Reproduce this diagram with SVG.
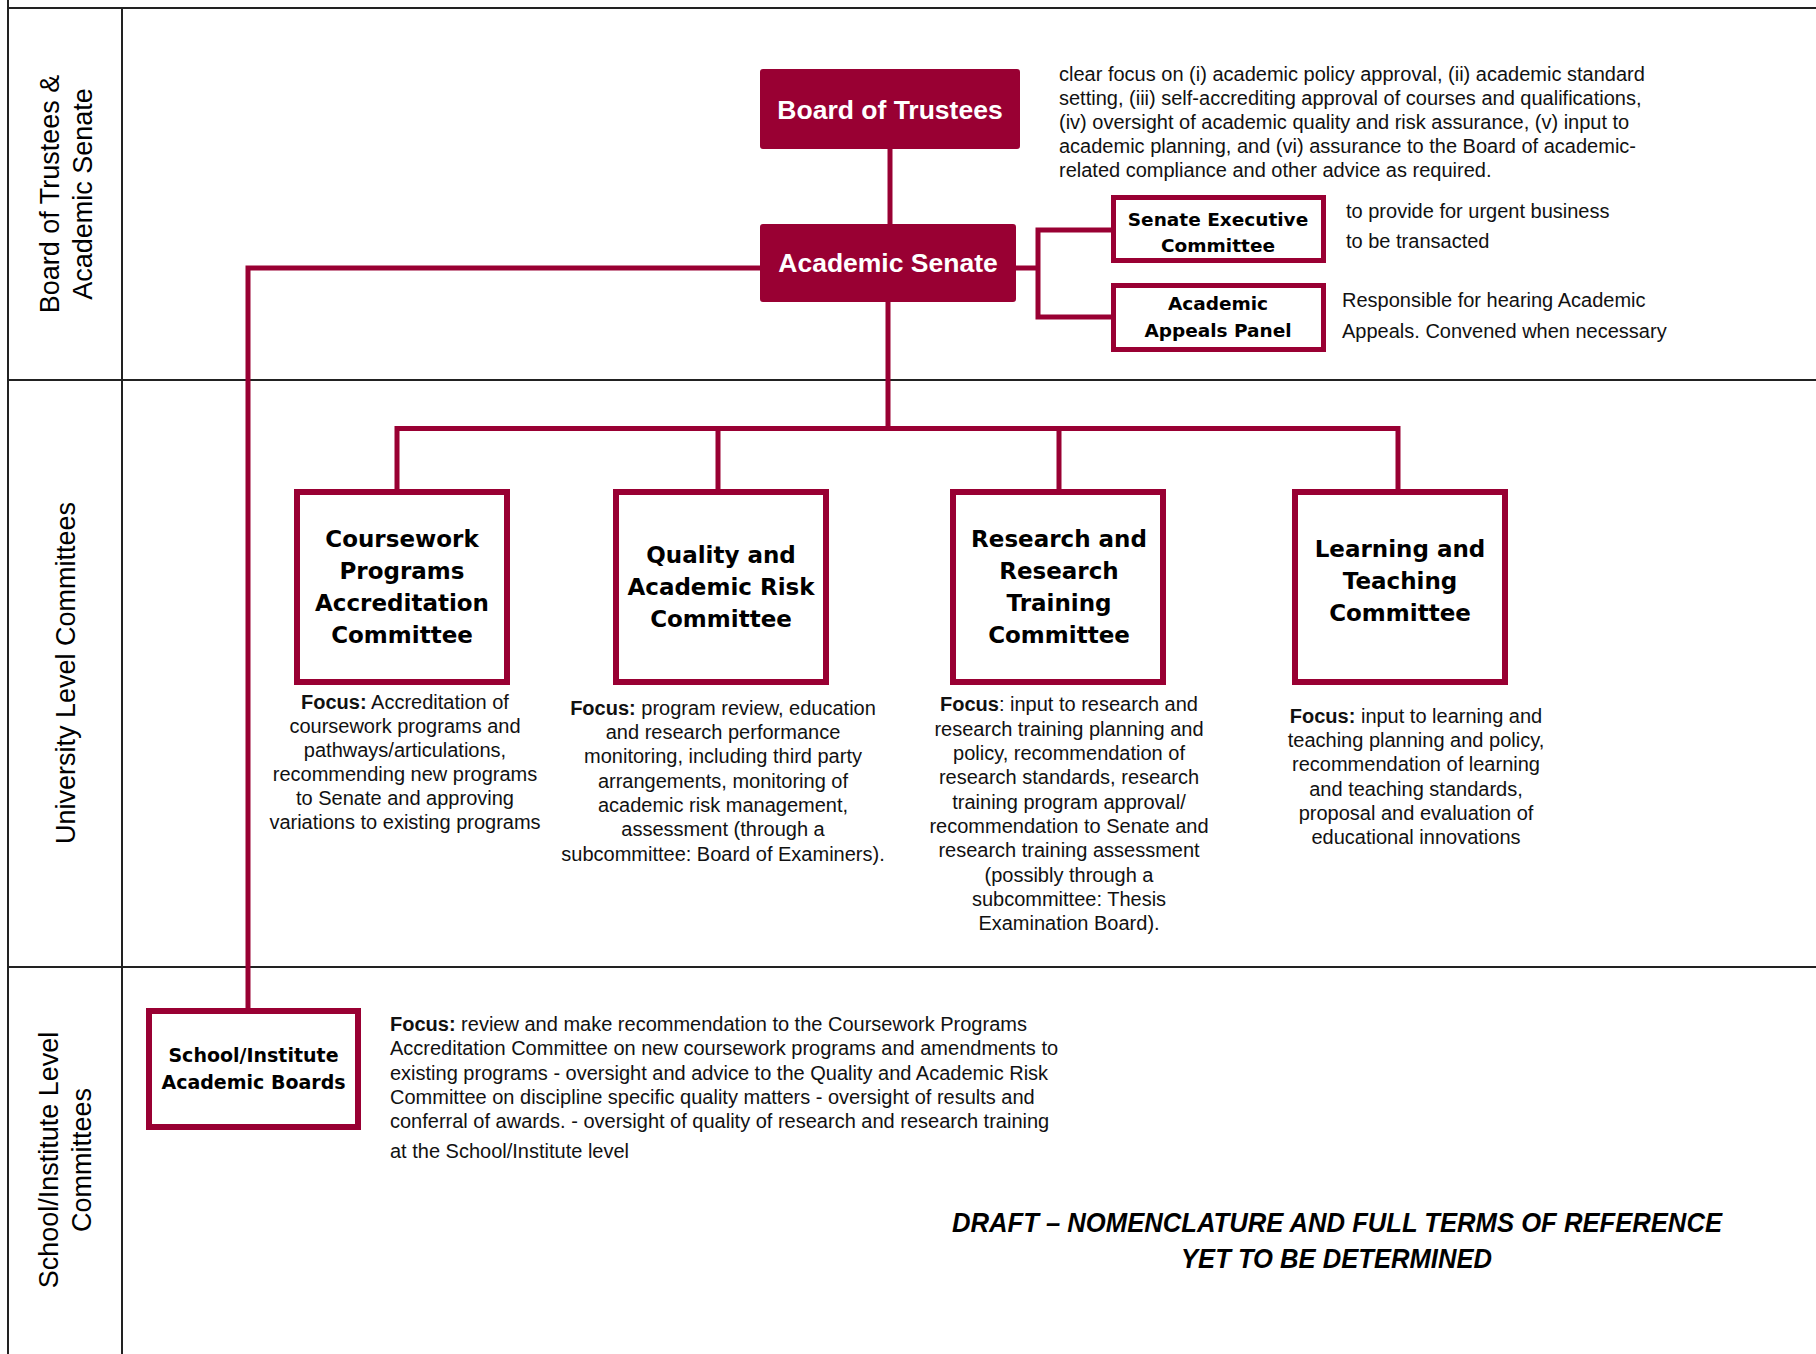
<svg xmlns="http://www.w3.org/2000/svg" width="1816" height="1354" viewBox="0 0 1816 1354">
<style>
.grid{stroke:#222;stroke-width:2;fill:none}
.conn{stroke:#990033;stroke-width:5;fill:none}
.solid{fill:#990033;stroke:#990033;stroke-width:2}
.box{fill:#fff;stroke:#990033;stroke-width:6}
.sbox{fill:#fff;stroke:#990033;stroke-width:5}
.lane{font-family:"Liberation Sans",Arial,sans-serif;font-size:27px;fill:#000;text-anchor:middle}
.wt{font-family:"Liberation Sans",Arial,sans-serif;font-weight:bold;font-size:26.5px;fill:#fff;text-anchor:middle}
.bt{font-family:"DejaVu Sans",Verdana,sans-serif;font-weight:bold;font-size:23px;fill:#000;text-anchor:middle}
.st{font-family:"DejaVu Sans",Verdana,sans-serif;font-weight:bold;font-size:18.5px;fill:#000;text-anchor:middle}
.d{font-family:"Liberation Sans",Arial,sans-serif;font-size:20px;fill:#111}
.c{text-anchor:middle}
.b{font-weight:bold}
.draft{font-family:"Liberation Sans",Arial,sans-serif;font-weight:bold;font-style:italic;font-size:28px;fill:#000}
</style>
<rect x="0" y="0" width="1816" height="1354" fill="#fff"/>
<g id="grid">
<path class="grid" d="M8,0 V1354 M8,8 H1816 M122,8 V1354 M8,380 H1816 M8,967 H1816"/>
</g>
<g id="lane-labels">
<text class="lane" transform="translate(59,194) rotate(-90)">Board of Trustees &amp;</text>
<text class="lane" transform="translate(92,194) rotate(-90)">Academic Senate</text>
<text class="lane" transform="translate(75,673) rotate(-90)">University Level Committees</text>
<text class="lane" transform="translate(58,1160) rotate(-90)">School/Institute Level</text>
<text class="lane" transform="translate(91,1160) rotate(-90)">Committees</text>
</g>
<g id="connectors">
<path class="conn" d="M890,149 V224"/>
<path class="conn" d="M760,268 H248 V1008"/>
<path class="conn" d="M1111,230 H1038 V317 H1111 M1016,268 H1038"/>
<path class="conn" d="M888,302 V428.5 M397,490 V428.5 H1398 V490 M718,428.5 V490 M1059,428.5 V490"/>
</g>
<g id="board-of-trustees">
<rect class="solid" x="761" y="70" width="258" height="78" rx="2"/>
<text class="wt" x="890" y="119">Board of Trustees</text>
</g>
<g id="board-note">
<text class="d" x="1059"><tspan x="1059" y="81">clear focus on (i) academic policy approval, (ii) academic standard</tspan><tspan x="1059" y="105">setting, (iii) self-accrediting approval of courses and qualifications,</tspan><tspan x="1059" y="129">(iv) oversight of academic quality and risk assurance, (v) input to</tspan><tspan x="1059" y="153">academic planning, and (vi) assurance to the Board of academic-</tspan><tspan x="1059" y="177">related compliance and other advice as required.</tspan></text>
</g>
<g id="academic-senate">
<rect class="solid" x="761" y="225" width="254" height="76" rx="2"/>
<text class="wt" x="888" y="272">Academic Senate</text>
</g>
<g id="senate-executive-committee">
<rect class="sbox" x="1113.5" y="197.5" width="210" height="63"/>
<text class="st" x="1218" y="226">Senate Executive</text>
<text class="st" x="1218" y="252">Committee</text>
<text class="d" x="1346" y="218">to provide for urgent business</text>
<text class="d" x="1346" y="248">to be transacted</text>
</g>
<g id="academic-appeals-panel">
<rect class="sbox" x="1113.5" y="285.5" width="210" height="64"/>
<text class="st" x="1218" y="310">Academic</text>
<text class="st" x="1218" y="337">Appeals Panel</text>
<text class="d" x="1342" y="307">Responsible for hearing Academic</text>
<text class="d" x="1342" y="338">Appeals. Convened when necessary</text>
</g>
<g id="coursework-programs-accreditation-committee">
<rect class="box" x="297" y="492" width="210" height="190"/>
<text class="bt" x="402" y="547">Coursework</text>
<text class="bt" x="402" y="579">Programs</text>
<text class="bt" x="402" y="611">Accreditation</text>
<text class="bt" x="402" y="643">Committee</text>
<text class="d c"><tspan x="405" y="709"><tspan class="b">Focus:</tspan> Accreditation of</tspan><tspan x="405" y="733">coursework programs and</tspan><tspan x="405" y="757">pathways/articulations,</tspan><tspan x="405" y="781">recommending new programs</tspan><tspan x="405" y="805">to Senate and approving</tspan><tspan x="405" y="829">variations to existing programs</tspan></text>
</g>
<g id="quality-and-academic-risk-committee">
<rect class="box" x="616" y="492" width="210" height="190"/>
<text class="bt" x="721" y="563">Quality and</text>
<text class="bt" x="721" y="595">Academic Risk</text>
<text class="bt" x="721" y="627">Committee</text>
<text class="d c"><tspan x="723" y="715"><tspan class="b">Focus:</tspan> program review, education</tspan><tspan x="723" y="739">and research performance</tspan><tspan x="723" y="763">monitoring, including third party</tspan><tspan x="723" y="788">arrangements, monitoring of</tspan><tspan x="723" y="812">academic risk management,</tspan><tspan x="723" y="836">assessment (through a</tspan><tspan x="723" y="861">subcommittee: Board of Examiners).</tspan></text>
</g>
<g id="research-and-research-training-committee">
<rect class="box" x="953" y="492" width="210" height="190"/>
<text class="bt" x="1059" y="547">Research and</text>
<text class="bt" x="1059" y="579">Research</text>
<text class="bt" x="1059" y="611">Training</text>
<text class="bt" x="1059" y="643">Committee</text>
<text class="d c"><tspan x="1069" y="711"><tspan class="b">Focus</tspan>: input to research and</tspan><tspan x="1069" y="736">research training planning and</tspan><tspan x="1069" y="760">policy, recommendation of</tspan><tspan x="1069" y="784">research standards, research</tspan><tspan x="1069" y="809">training program approval/</tspan><tspan x="1069" y="833">recommendation to Senate and</tspan><tspan x="1069" y="857">research training assessment</tspan><tspan x="1069" y="882">(possibly through a</tspan><tspan x="1069" y="906">subcommittee: Thesis</tspan><tspan x="1069" y="930">Examination Board).</tspan></text>
</g>
<g id="learning-and-teaching-committee">
<rect class="box" x="1295" y="492" width="210" height="190"/>
<text class="bt" x="1400" y="557">Learning and</text>
<text class="bt" x="1400" y="589">Teaching</text>
<text class="bt" x="1400" y="621">Committee</text>
<text class="d c"><tspan x="1416" y="723"><tspan class="b">Focus:</tspan> input to learning and</tspan><tspan x="1416" y="747">teaching planning and policy,</tspan><tspan x="1416" y="771">recommendation of learning</tspan><tspan x="1416" y="796">and teaching standards,</tspan><tspan x="1416" y="820">proposal and evaluation of</tspan><tspan x="1416" y="844">educational innovations</tspan></text>
</g>
<g id="school-institute-academic-boards">
<rect class="box" x="149" y="1011" width="209" height="116"/>
<text class="st" x="253.5" y="1062" style="font-size:19px">School/Institute</text>
<text class="st" x="253.5" y="1089" style="font-size:19px">Academic Boards</text>
<text class="d"><tspan x="390" y="1031"><tspan class="b">Focus:</tspan> review and make recommendation to the Coursework Programs</tspan><tspan x="390" y="1055">Accreditation Committee on new coursework programs and amendments to</tspan><tspan x="390" y="1080">existing programs - oversight and advice to the Quality and Academic Risk</tspan><tspan x="390" y="1104">Committee on discipline specific quality matters - oversight of results and</tspan><tspan x="390" y="1128">conferral of awards. - oversight of quality of research and research training</tspan><tspan x="390" y="1158">at the School/Institute level</tspan></text>
</g>
<g id="draft-note">
<text class="draft" x="952" y="1232" textLength="770" lengthAdjust="spacingAndGlyphs">DRAFT – NOMENCLATURE AND FULL TERMS OF REFERENCE</text>
<text class="draft" x="1181" y="1268" textLength="311" lengthAdjust="spacingAndGlyphs">YET TO BE DETERMINED</text>
</g>
</svg>
